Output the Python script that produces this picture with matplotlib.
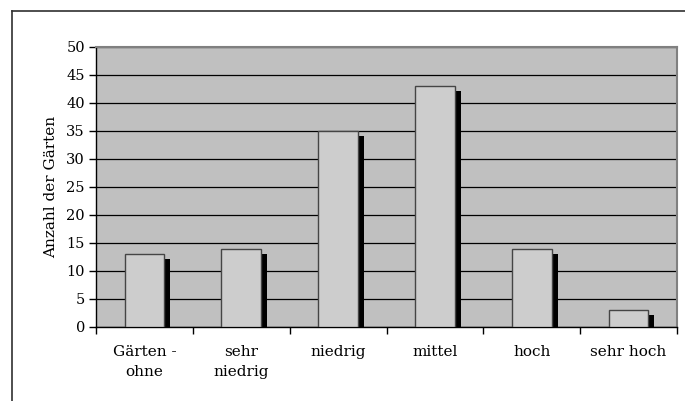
import matplotlib.pyplot as plt
import matplotlib.transforms as mtransforms
from matplotlib.lines import Line2D
import numpy as np

categories = ["Gärten -\nohne", "sehr\nniedrig", "niedrig", "mittel", "hoch", "sehr hoch"]
counts = [13, 14, 35, 43, 14, 3]
y_ticks = [0, 5, 10, 15, 20, 25, 30, 35, 40, 45, 50]

plt.rcParams['font.family'] = 'DejaVu Serif'

fig = plt.figure(figsize=(6.85, 4.01), dpi=100)
ax = fig.add_axes([96 / 685, 74 / 401, 581 / 685, 280 / 401])
ax.set_facecolor("#c0c0c0")

x = np.arange(len(categories))
width = 0.41

# shadow offset right/down by a few pixels
shadow_tr = ax.transData + mtransforms.ScaledTranslation(6 / 100, -5 / 100, fig.dpi_scale_trans)
ax.bar(x, counts, width=width, color="black", transform=shadow_tr, zorder=2)
ax.bar(x, counts, width=width, facecolor="#cdcdcd", edgecolor="#454545",
       linewidth=1.0, zorder=3)

ax.set_xlim(-0.5, len(categories) - 0.5)
ax.set_ylim(0, 50)
ax.set_yticks(y_ticks)
ax.yaxis.grid(True, color="black", linewidth=0.9)
ax.set_axisbelow(True)

ax.set_xticks(x)
ax.set_xticklabels(categories, fontsize=11, linespacing=1.55)
ax.set_xticks(np.arange(len(categories) + 1) - 0.5, minor=True)
ax.tick_params(axis="x", which="major", length=0, pad=13)
ax.tick_params(axis="x", which="minor", length=5, width=1, direction="out")
ax.tick_params(axis="y", length=5, width=1, direction="out", labelsize=10.5, pad=3)
ax.set_ylabel("Anzahl der Gärten", fontsize=11, labelpad=6)

for side in ["top", "right"]:
    ax.spines[side].set_color("#808080")
    ax.spines[side].set_linewidth(1.5)
for side in ["left", "bottom"]:
    ax.spines[side].set_color("black")
    ax.spines[side].set_linewidth(1.0)

# outer chart frame (left and top edges visible)
fig.add_artist(Line2D([12 / 685, 12 / 685], [0, 1 - 11 / 401], color="#303030", linewidth=1.2))
fig.add_artist(Line2D([12 / 685, 1], [1 - 11 / 401, 1 - 11 / 401], color="#303030", linewidth=1.2))

fig.savefig("out.png", dpi=100)
